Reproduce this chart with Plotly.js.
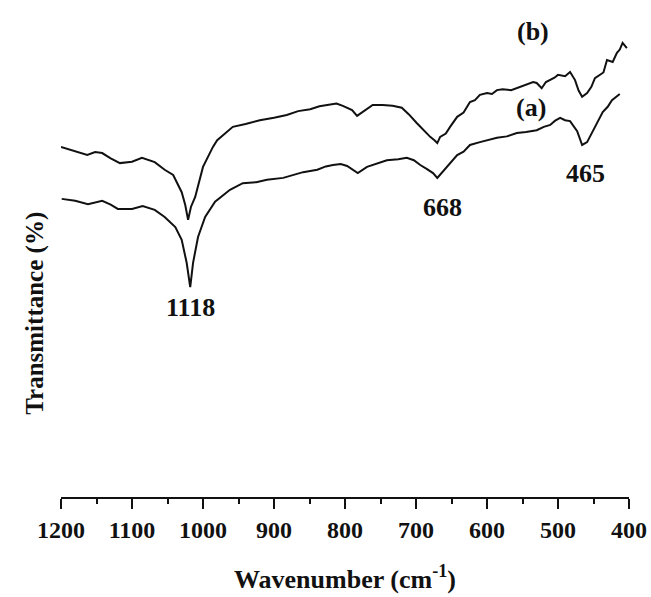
<!DOCTYPE html>
<html>
<head>
<meta charset="utf-8">
<script src="https://cdn.plot.ly/plotly-3.0.1.min.js"></script>
<style>html,body{margin:0;padding:0;background:#fff;}#chart{width:651px;height:597px;}</style>
</head>
<body>
<div id="chart"></div>
<script>
// Spectrum (b) – upper curve
var wavenumberB = [1200, 1182, 1163, 1152, 1142, 1130, 1117, 1100, 1086, 1068, 1054, 1042, 1030, 1025, 1021, 1017, 1011, 1000, 986, 980, 970, 958, 940, 920, 900, 882, 866, 849, 836, 824, 812, 803, 790, 783, 775, 761, 747, 733, 720, 710, 699, 690, 680, 674, 670, 666, 658, 652, 642, 633, 624, 617, 610, 600, 593, 586, 578, 566, 554, 545, 535, 530, 523, 517, 511, 505, 500, 490, 483, 476, 471, 466, 459, 453, 448, 441, 436, 431, 423, 417, 413, 409, 403];
var transB = [73.4, 72.6, 71.7, 72.3, 72.1, 71.0, 70.0, 70.3, 71.1, 70.2, 68.6, 67.5, 63.9, 61.2, 58.1, 60.8, 62.9, 69.2, 73.4, 74.8, 76.1, 77.6, 78.2, 79.0, 79.5, 80.1, 80.9, 81.3, 81.9, 82.2, 82.5, 82.0, 81.1, 79.9, 80.7, 82.2, 82.2, 82.0, 81.6, 80.2, 78.4, 77.0, 75.5, 74.8, 74.2, 75.5, 76.2, 77.6, 79.7, 80.6, 82.8, 83.2, 84.3, 84.7, 84.5, 85.3, 85.5, 85.3, 86.0, 86.4, 87.0, 86.8, 85.7, 87.0, 87.4, 87.9, 88.5, 88.2, 89.1, 87.4, 85.2, 83.9, 84.7, 86.0, 87.8, 88.5, 89.0, 91.6, 91.2, 93.1, 93.8, 95.2, 94.1];

// Spectrum (a) – lower curve
var wavenumberA = [1199, 1180, 1162, 1142, 1130, 1120, 1100, 1085, 1068, 1054, 1039, 1030, 1023, 1018, 1014, 1007, 997, 983, 962, 944, 925, 910, 887, 870, 859, 839, 827, 817, 806, 797, 782, 769, 755, 741, 725, 713, 703, 694, 685, 676, 670, 663, 652, 642, 633, 624, 610, 598, 586, 572, 558, 545, 530, 520, 511, 504, 497, 490, 483, 473, 466, 459, 452, 445, 437, 430, 424, 413];
var transA = [62.5, 62.1, 61.4, 62.1, 61.3, 60.4, 60.4, 61.0, 60.2, 58.7, 56.6, 53.9, 49.1, 44.0, 49.1, 54.5, 58.7, 61.9, 64.4, 65.8, 66.0, 66.5, 66.9, 67.6, 68.1, 68.6, 69.3, 69.6, 69.8, 69.4, 67.9, 69.2, 69.9, 70.6, 70.8, 71.1, 70.6, 69.6, 68.8, 67.9, 66.9, 68.1, 70.0, 71.7, 72.4, 73.8, 74.4, 74.8, 75.3, 75.6, 76.3, 76.5, 76.9, 77.6, 78.0, 78.9, 79.5, 79.0, 78.8, 76.7, 73.8, 74.4, 76.4, 78.2, 80.7, 81.8, 83.2, 84.5];

// Tick labels
var tickVals = [1200, 1100, 1000, 900, 800, 700, 600, 500, 400];
var tickText = ["1200", "1100", "1000", "900", "800", "700", "600", "500", "400"];

// Peak / curve labels
var labelText = ["1118", "668", "465", "(a)", "(b)"];
var labelX = [1018, 663, 461, 538, 535];
var labelY = [39.8, 60.6, 67.9, 81.6, 97.5];

var xTitle = "Wavenumber (cm<sup>-1</sup>)";
var yTitle = "Transmittance (%)";

var FONT = "Liberation Serif, Times New Roman, serif";

var traces = [
  {x: wavenumberB, y: transB, type: "scatter", mode: "lines", name: "(b)",
   line: {color: "#111", width: 2}},
  {x: wavenumberA, y: transA, type: "scatter", mode: "lines", name: "(a)",
   line: {color: "#111", width: 2}}
];

var annotations = labelText.map(function (t, i) {
  return {x: labelX[i], y: labelY[i], xref: "x", yref: "y", text: t, showarrow: false,
          font: {family: FONT, size: 26, color: "#111", weight: "bold"}};
});
// y-axis title, placed lower than the plot centre as in the reference
annotations.push({x: -0.046, y: 0.386, xref: "paper", yref: "paper", text: yTitle,
  textangle: -90, showarrow: false, xanchor: "center", yanchor: "middle",
  font: {family: FONT, size: 25, color: "#111", weight: "bold"}});

var layout = {
  width: 651, height: 597,
  margin: {l: 61, r: 22, t: 20, b: 100},
  paper_bgcolor: "#fff", plot_bgcolor: "#fff",
  showlegend: false,
  xaxis: {
    range: [1200, 400], autorange: false,
    tickvals: tickVals, ticktext: tickText,
    ticks: "outside", ticklen: 10, tickwidth: 2, tickcolor: "#111",
    minor: {dtick: 50, tick0: 400, ticks: "outside", ticklen: 5, tickwidth: 2, tickcolor: "#111"},
    showline: true, linecolor: "#111", linewidth: 2,
    showgrid: false, zeroline: false,
    tickfont: {family: FONT, size: 24, color: "#111", weight: "bold"},
    title: {text: xTitle, standoff: 28,
            font: {family: FONT, size: 26, color: "#111", weight: "bold"}}
  },
  yaxis: {
    range: [0, 100], autorange: false,
    showticklabels: false, ticks: "", showline: false, showgrid: false, zeroline: false
  },
  annotations: annotations
};

Plotly.newPlot("chart", traces, layout, {displayModeBar: false, staticPlot: true});
</script>
</body>
</html>
